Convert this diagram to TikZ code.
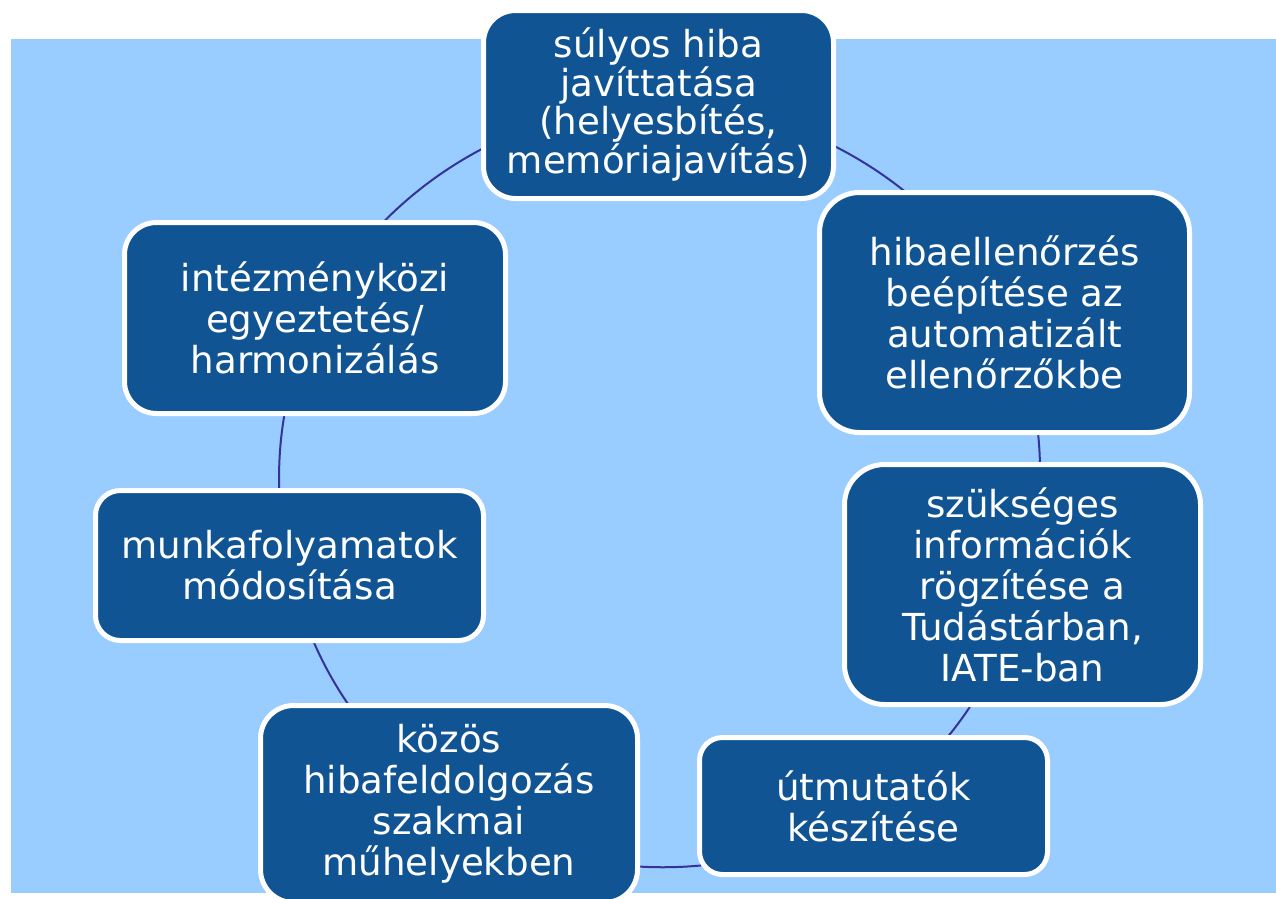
\documentclass[tikz,border=0pt]{standalone}
\usepackage{fontspec}
\setmainfont{DejaVu Sans}
\usetikzlibrary{backgrounds}
\definecolor{boxblue}{RGB}{16,84,148}
\definecolor{paleblue}{RGB}{153,204,255}
\definecolor{linkblue}{RGB}{51,51,153}

\begin{document}
\begin{tikzpicture}[x=1pt,y=1pt,
  box/.style={draw=white, line width=5pt, fill=boxblue, text=white, align=center,
    inner sep=0pt, rounded corners=#1, font=\fontsize{37.2}{41}\selectfont},
  box/.default=32pt,
  link/.style={draw=linkblue, line width=2pt, looseness=0.9}]

\useasboundingbox (0,0) rectangle (1276,-898);

\node[box, minimum width=350, minimum height=188, font=\fontsize{37.2}{38.5}\selectfont] (n1) at (658.5,-104.5)
  {súlyos hiba\\javíttatása\\(helyesbítés,\\memóriajavítás)};
\node[box=40pt, minimum width=370, minimum height=240] (n2) at (1004.5,-312.5)
  {hibaellenőrzés\\beépítése az\\automatizált\\ellenőrzőkbe};
\node[box=40pt, minimum width=356, minimum height=240] (n3) at (1022.5,-584.5)
  {szükséges\\információk\\rögzítése a\\Tudástárban,\\IATE-ban};
\node[box=23pt, minimum width=348, minimum height=137] (n4) at (873.5,-806)
  {útmutatók\\készítése};
\node[box=33pt, minimum width=377, minimum height=197] (n5) at (449,-804)
  {közös\\hibafeldolgozás\\szakmai\\műhelyekben};
\node[box=25pt, minimum width=388, minimum height=150] (n6) at (289.5,-565.5)
  {munkafolyamatok\\módosítása};
\node[box, minimum width=381, minimum height=191] (n7) at (315,-318)
  {intézményközi\\egyeztetés/\\harmonizálás};

% cycle behind the boxes
\begin{scope}[on background layer]
\fill[paleblue] (11,-39) rectangle (1276,-893);
\draw[link] (n1.center) to[bend left=31.8] (n2.center);
\draw[link] (n2.center) to[bend left=21] (n3.center);
\draw[link] (n3.center) to[bend left=20.5] (n4.center);
\draw[link] (n4.center) to[bend left=33.7] (n5.center);
\draw[link] (n5.center) to[bend left=22] (n6.center);
\draw[link] (n6.center) to[bend left=19] (n7.center);
\draw[link] (n7.center) to[bend left=32] (n1.center);
\end{scope}
\end{tikzpicture}
\end{document}
